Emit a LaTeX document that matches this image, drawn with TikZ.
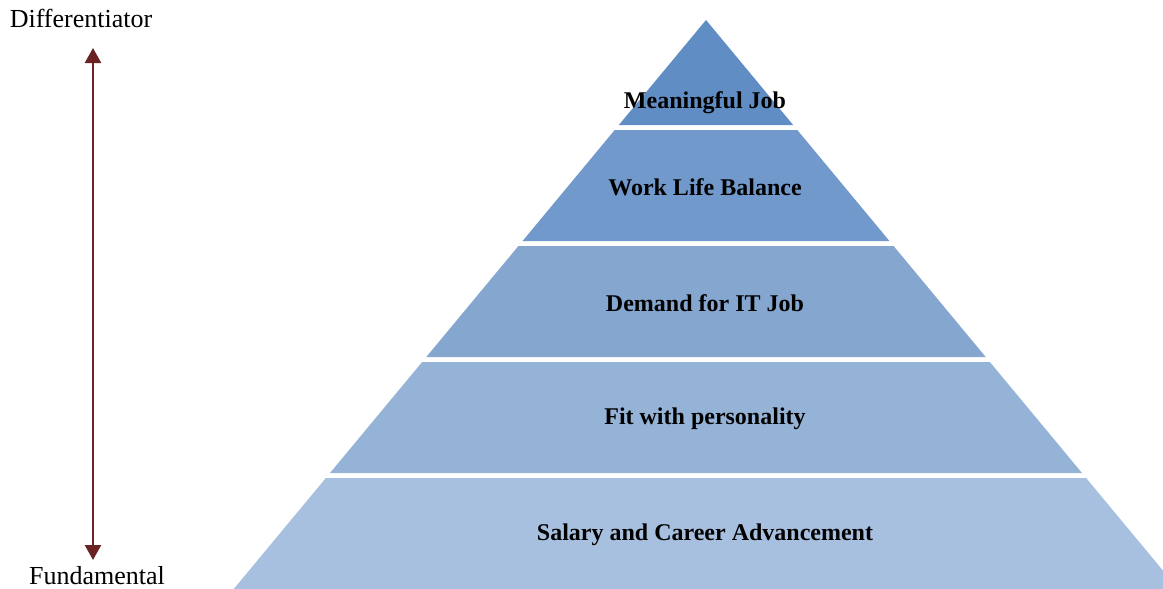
\documentclass[tikz,border=0pt]{standalone}
\usepackage{fontspec}
\setmainfont{Liberation Serif}
\usetikzlibrary{arrows.meta}
\definecolor{layerA}{HTML}{5F8DC4}
\definecolor{layerB}{HTML}{7199CB}
\definecolor{layerC}{HTML}{84A6CF}
\definecolor{layerD}{HTML}{95B3D7}
\definecolor{layerE}{HTML}{A8C0DF}
\definecolor{axisred}{HTML}{6A2222}
\tikzset{
  tier/.style={font=\fontsize{12}{14}\selectfont\bfseries},
  side/.style={font=\fontsize{13}{15}\selectfont, anchor=base, inner sep=0pt},
}

\begin{document}
\begin{tikzpicture}[x=0.5pt, y=-0.5pt]
  \useasboundingbox (0,0) rectangle (1163,589);
  \clip (0,0) rectangle (1163,589);
  % slices of one triangle, apex at (706,20)
  \foreach \ytop/\ybot/\col/\lab/\ylab [count=\i] in
    {20/125/layerA/{Meaningful Job}/103,
     130/241/layerB/{Work Life Balance}/187,
     246/357/layerC/{Demand for IT Job}/303,
     362/473/layerD/{Fit with personality}/419,
     478/589/layerE/{Salary and Career Advancement}/535}{%
    \pgfmathsetmacro{\wt}{0.83*(\ytop-20)}
    \pgfmathsetmacro{\wb}{0.83*(\ybot-20)}
    \fill[\col] (706-\wt,\ytop) -- (706+\wt,\ytop)
      -- (706+\wb,\ybot) -- (706-\wb,\ybot) -- cycle;
    \node[tier] (tier\i) at (705,\ylab) {\lab};}
  % scale on the left
  \node[side] (diff) at (81,27) {Differentiator};
  \node[side] (fund) at (97,584) {Fundamental};
  \coordinate (up) at (93,48);
  \coordinate (down) at (93,560);
  \draw[axisred, line width=1.2pt,
        {Triangle[width=8pt,length=7.5pt]}-{Triangle[width=8pt,length=7.5pt]}]
    (down) -- (up);
\end{tikzpicture}
\end{document}
